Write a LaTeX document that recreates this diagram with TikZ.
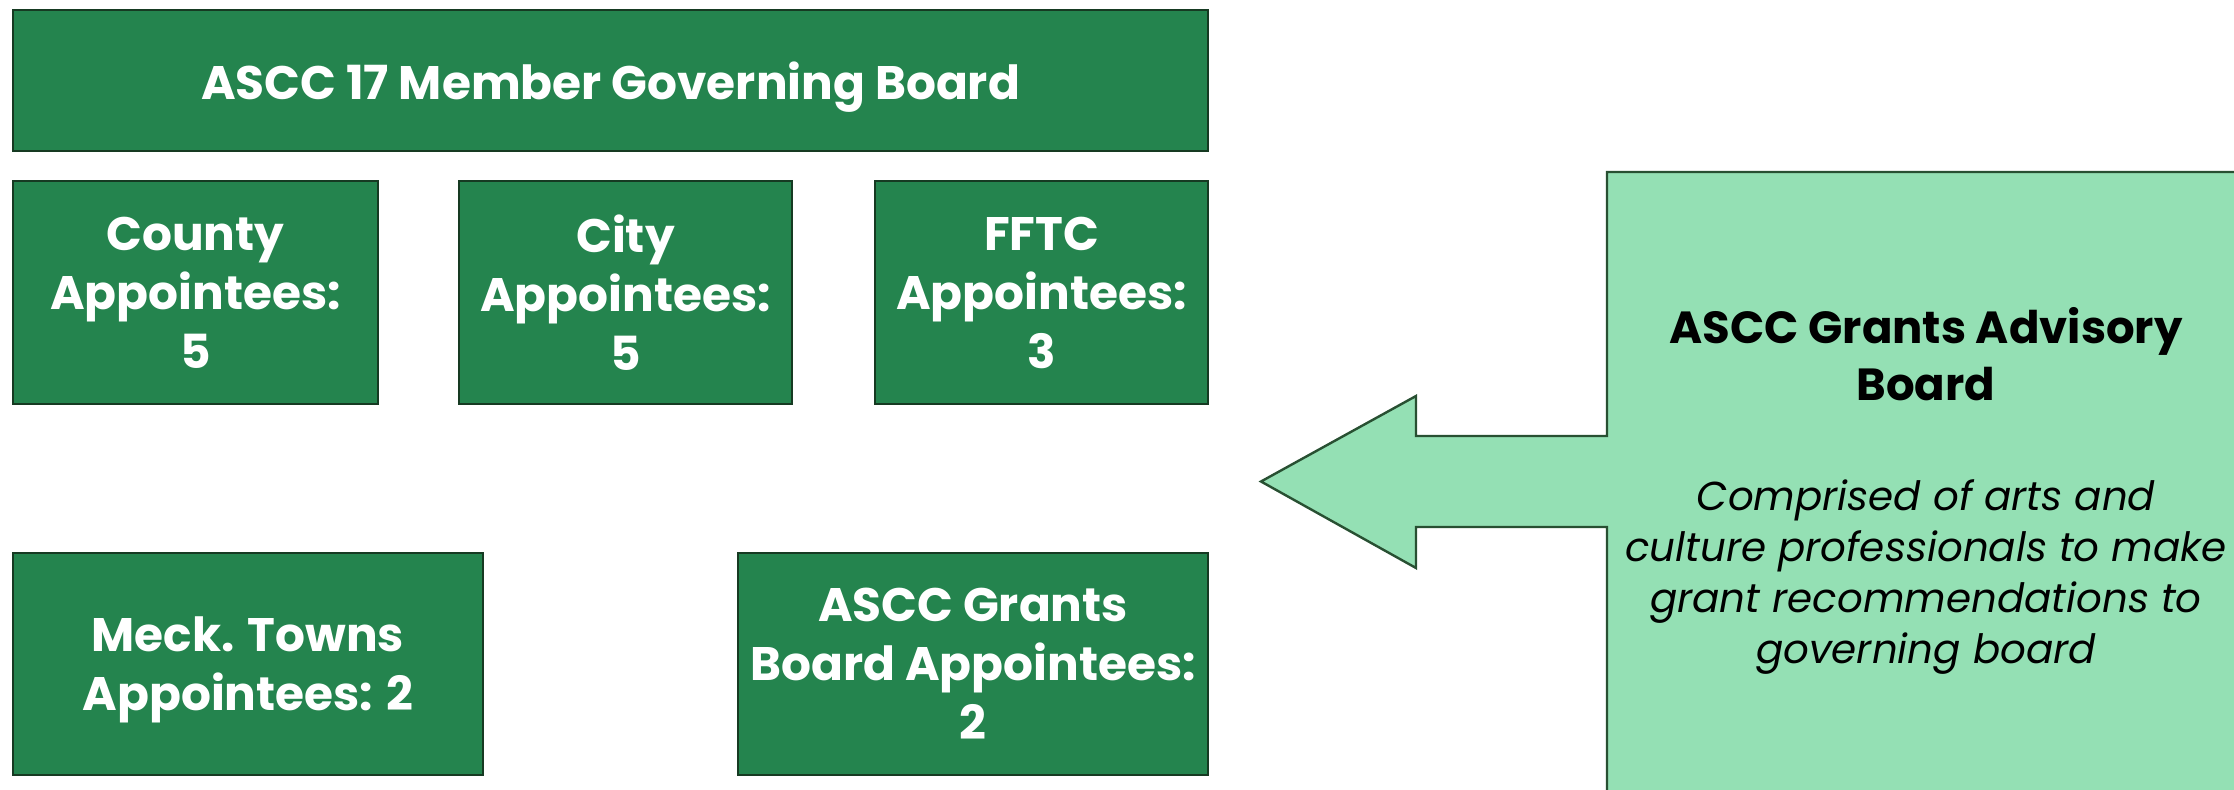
\documentclass[tikz,border=0pt]{standalone}
\usepackage{fontspec}
\setmainfont{Poppins}
\definecolor{dkgreen}{RGB}{36,132,78}
\definecolor{dkborder}{RGB}{22,58,34}
\definecolor{ltgreen}{RGB}{148,224,180}
\definecolor{ltborder}{RGB}{40,80,50}
\begin{document}
\begin{tikzpicture}[x=0.5pt,y=-0.5pt,
  gbox/.style={draw=dkborder,line width=1.2pt,fill=dkgreen,text=white,
    font=\fontsize{23.5}{29.5}\selectfont\bfseries,align=center,inner sep=0pt,text depth=0pt},
  ltxt/.style={align=center,inner sep=0pt}]
\clip (0,0) rectangle (2234,790);
\useasboundingbox (0,0) rectangle (2234,790);
\node[gbox,minimum width=597.5pt,minimum height=70.5pt] (top) at (610.5,80.5) {ASCC 17 Member Governing Board};
\node[gbox,minimum width=182.5pt,minimum height=111.5pt] (county) at (195.5,292.5) {County\\Appointees:\\5};
\node[gbox,minimum width=166.5pt,minimum height=111.5pt] (city) at (625.5,292.5) {City\\Appointees:\\5};
\node[gbox,minimum width=166.5pt,minimum height=111.5pt] (fftc) at (1041.5,292.5) {FFTC\\Appointees:\\3};
\node[gbox,minimum width=235pt,minimum height=111pt] (meck) at (248,664) {Meck. Towns\\Appointees: 2};
\node[gbox,minimum width=235pt,minimum height=111pt] (grants) at (973,664) {ASCC Grants\\Board Appointees:\\2};
\draw[draw=ltborder,line width=1.2pt,fill=ltgreen,line join=miter]
  (1607,172) -- (2260,172) -- (2260,820) -- (1607,820) -- (1607,527) -- (1416,527)
  -- (1416,568) -- (1261,481.5) -- (1416,396) -- (1416,436) -- (1607,436) -- cycle;
\node[ltxt,font=\fontsize{22.5}{28.5}\selectfont\bfseries] (advtitle) at (1926,354) {ASCC Grants Advisory\\Board};
\node[ltxt,font=\fontsize{20.2}{25.5}\selectfont\itshape] (advtext) at (1926,577) {Comprised of arts and\\culture professionals to make\\grant recommendations to\\governing board};
\end{tikzpicture}
\end{document}
